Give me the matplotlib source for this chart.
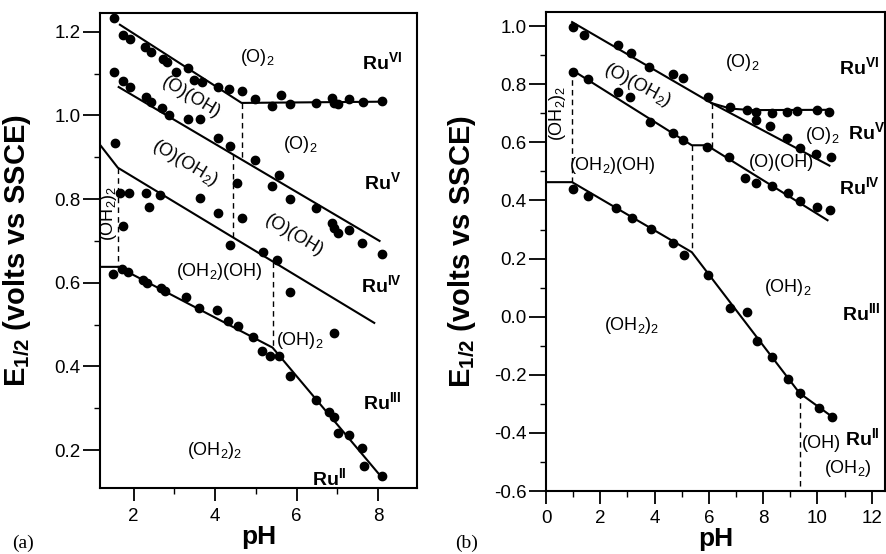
import numpy as np
import matplotlib
matplotlib.use("Agg")
import matplotlib.pyplot as plt
from matplotlib.ticker import MultipleLocator, FormatStrFormatter

plt.rcParams['font.family'] = ['Liberation Sans', 'DejaVu Sans']
plt.rcParams['mathtext.fontset'] = 'custom'
plt.rcParams['mathtext.rm'] = 'Liberation Sans'
plt.rcParams['mathtext.it'] = 'Liberation Sans'
plt.rcParams['mathtext.bf'] = 'Liberation Sans:bold'
plt.rcParams['axes.unicode_minus'] = False

# ---- panel (a) measured points ----
a_ph_vi = [1.51, 1.73, 1.90, 2.27, 2.42, 2.71, 2.81, 3.03, 3.33, 3.47, 3.67, 4.06, 4.33,
           4.65, 4.99, 5.39, 5.61, 5.85, 6.49, 6.88, 6.93, 7.03, 7.30, 7.64, 8.11]
a_e_vi = [1.233, 1.193, 1.183, 1.164, 1.152, 1.135, 1.128, 1.104, 1.114, 1.085, 1.080, 1.068, 1.063,
          1.059, 1.040, 1.023, 1.049, 1.028, 1.030, 1.042, 1.030, 1.028, 1.040, 1.033, 1.035]
a_ph_v = [1.51, 1.73, 1.90, 2.29, 2.42, 2.69, 2.86, 3.33, 3.64, 4.06, 4.36, 4.97, 5.39,
          5.58, 5.83, 6.49, 6.86, 6.93, 7.03, 7.28, 7.62, 8.11]
a_e_v = [1.104, 1.083, 1.068, 1.045, 1.033, 1.018, 1.001, 0.992, 0.992, 0.946, 0.927, 0.894, 0.832,
         0.858, 0.800, 0.779, 0.743, 0.731, 0.719, 0.726, 0.695, 0.669]
a_ph_iv = [1.53, 1.66, 1.88, 1.73, 2.29, 2.37, 2.64, 3.62, 4.06, 4.36, 4.53, 4.65, 5.17, 5.53, 5.83, 6.91]
a_e_iv = [0.934, 0.815, 0.815, 0.736, 0.815, 0.781, 0.810, 0.803, 0.767, 0.690, 0.839, 0.755,
          0.674, 0.655, 0.578, 0.480]
a_ph_iii = [1.48, 1.71, 1.85, 2.22, 2.32, 2.66, 2.78, 3.28, 3.60, 4.04, 4.31, 4.55, 4.92, 5.14,
            5.36, 5.56, 5.83, 6.49, 6.81, 6.93, 7.01, 7.30, 7.62, 7.67, 8.09]
a_e_iii = [0.621, 0.633, 0.626, 0.607, 0.600, 0.588, 0.580, 0.565, 0.540, 0.535, 0.508, 0.497,
           0.470, 0.437, 0.425, 0.425, 0.378, 0.320, 0.290, 0.278, 0.240, 0.236, 0.205, 0.162, 0.138]

# ---- panel (a) fitted lines ----
a_fit_vi_ph = [1.66, 4.65, 8.11]
a_fit_vi_e = [1.217, 1.030, 1.033]
a_fit_v_ph = [1.63, 8.04]
a_fit_v_e = [1.068, 0.700]
a_fit_iv_ph = [1.17, 1.61, 7.91]
a_fit_iv_e = [0.930, 0.875, 0.504]
a_fit_iii_ph = [1.17, 1.61, 5.41, 8.09]
a_fit_iii_e = [0.638, 0.638, 0.445, 0.135]
a_dash_ph = [4.65, 4.43, 1.61, 5.41]
a_dash_top = [1.030, 0.907, 0.875, 0.650]
a_dash_bot = [0.897, 0.707, 0.638, 0.445]

# ---- panel (b) measured points ----
b_ph_vi = [0.99, 1.40, 2.65, 3.13, 3.79, 4.67, 5.04, 5.96, 6.76, 7.39, 7.74, 8.31, 8.86, 9.26, 10.0, 10.44]
b_e_vi = [0.997, 0.969, 0.935, 0.907, 0.859, 0.835, 0.820, 0.756, 0.721, 0.711, 0.704, 0.701,
          0.704, 0.708, 0.711, 0.704]
b_ph_v2 = [7.74, 8.24, 8.86, 9.34, 9.96, 10.51]
b_e_v2 = [0.676, 0.656, 0.614, 0.580, 0.559, 0.549]
b_ph_v = [0.99, 1.54, 2.65, 3.09, 3.82, 4.67, 5.04, 5.92, 6.73, 7.32, 7.72, 8.31, 8.90, 9.34, 10.0, 10.48]
b_e_v = [0.842, 0.818, 0.773, 0.756, 0.670, 0.632, 0.608, 0.584, 0.549, 0.477, 0.460, 0.450,
         0.425, 0.398, 0.377, 0.367]
b_ph_iii = [0.99, 1.54, 2.57, 3.16, 3.86, 4.67, 5.07, 5.96, 6.76, 7.39, 7.79, 8.31, 8.93, 9.37, 10.07, 10.55]
b_e_iii = [0.439, 0.415, 0.374, 0.339, 0.301, 0.253, 0.212, 0.143, 0.030, 0.016, -0.084, -0.139,
           -0.215, -0.263, -0.315, -0.345]

# ---- panel (b) fitted lines ----
b_fit_vi_ph = [0.96, 6.10, 6.8, 7.6, 10.44]
b_fit_vi_e = [1.014, 0.735, 0.716, 0.711, 0.712]
b_fit_v2_ph = [6.10, 10.44]
b_fit_v2_e = [0.735, 0.520]
b_fit_v_ph = [0.96, 5.37, 5.92, 10.37]
b_fit_v_e = [0.849, 0.590, 0.590, 0.332]
b_fit_iii_ph = [0.0, 0.96, 5.37, 9.34, 10.55]
b_fit_iii_e = [0.463, 0.463, 0.222, -0.263, -0.345]
b_dash_ph = [0.96, 6.10, 5.37, 9.34]
b_dash_top = [0.849, 0.735, 0.590, -0.263]
b_dash_bot = [0.463, 0.580, 0.222, -0.600]


def style_axes(ax):
    for s in ax.spines.values():
        s.set_linewidth(1.5)
    ax.tick_params(which='major', direction='out', width=1.3, labelsize=13.5)
    ax.tick_params(which='minor', direction='out', length=4, width=1.0)
    ax.tick_params(axis='y', which='major', length=12, pad=2)
    ax.tick_params(axis='x', which='major', length=9, pad=5)
    ax.tick_params(top=False, right=False)
    ax.set_ylabel(r'$\mathbf{E_{1/2}}$ (volts vs SSCE)', fontsize=21, fontweight='bold')
    ax.set_xlabel('pH', fontsize=19, fontweight='bold', labelpad=0)


def draw(ax, pts, fits, dashes):
    for px, py in fits:
        ax.plot(px, py, color='black', lw=1.5)
    ph, top, bot = dashes
    for x, y0, y1 in zip(ph, top, bot):
        ax.plot([x, x], [y0, y1], color='black', lw=1.0, dashes=(4, 3))
    for px, py in pts:
        ax.plot(px, py, 'o', color='black', ms=6, ls='none')


fig = plt.figure(figsize=(8.87, 5.54), dpi=100)

# panel (a)
ax1 = fig.add_axes([0.1127, 0.119, 0.3574, 0.8575])
draw(ax1,
     [(a_ph_vi, a_e_vi), (a_ph_v, a_e_v), (a_ph_iv, a_e_iv), (a_ph_iii, a_e_iii)],
     [(a_fit_vi_ph, a_fit_vi_e), (a_fit_v_ph, a_fit_v_e),
      (a_fit_iv_ph, a_fit_iv_e), (a_fit_iii_ph, a_fit_iii_e)],
     (a_dash_ph, a_dash_top, a_dash_bot))
ax1.set_xlim(1.17, 8.96)
ax1.set_ylim(0.109, 1.245)
ax1.xaxis.set_major_locator(MultipleLocator(2))
ax1.xaxis.set_minor_locator(MultipleLocator(1))
ax1.yaxis.set_major_locator(MultipleLocator(0.2))
ax1.yaxis.set_minor_locator(MultipleLocator(0.1))
ax1.yaxis.set_major_formatter(FormatStrFormatter('%.1f'))
style_axes(ax1)
ax1.yaxis.set_label_coords(-0.21, 0.5)

fs = 13
ax1.text(5.04, 1.138, r'(O)$_2$', fontsize=fs, ha='center', va='center')
ax1.text(6.10, 0.930, r'(O)$_2$', fontsize=fs, ha='center', va='center')
ax1.text(3.42, 1.042, '(O)(OH)', fontsize=fs, ha='center', va='center', rotation=-31)
ax1.text(3.25, 0.887, r'(O)(OH$_2$)', fontsize=fs, ha='center', va='center', rotation=-31)
ax1.text(5.95, 0.714, '(O)(OH)', fontsize=fs, ha='center', va='center', rotation=-31)
ax1.text(1.39, 0.767, r'(OH$_2$)$_2$', fontsize=fs, ha='center', va='center', rotation=90)
ax1.text(4.11, 0.626, r'(OH$_2$)(OH)', fontsize=fs, ha='center', va='center')
ax1.text(6.07, 0.463, r'(OH)$_2$', fontsize=fs, ha='center', va='center')
ax1.text(3.99, 0.200, r'(OH$_2$)$_2$', fontsize=fs, ha='center', va='center')
rs = 14
ax1.text(8.11, 1.128, r'$\mathbf{Ru^{VI}}$', fontsize=rs, ha='center', va='center')
ax1.text(8.11, 0.841, r'$\mathbf{Ru^{V}}$', fontsize=rs, ha='center', va='center')
ax1.text(8.09, 0.595, r'$\mathbf{Ru^{IV}}$', fontsize=rs, ha='center', va='center')
ax1.text(8.11, 0.315, r'$\mathbf{Ru^{III}}$', fontsize=rs, ha='center', va='center')
ax1.text(6.81, 0.133, r'$\mathbf{Ru^{II}}$', fontsize=rs, ha='center', va='center')

# panel (b)
ax2 = fig.add_axes([0.6156, 0.1137, 0.3825, 0.8643])
draw(ax2,
     [(b_ph_vi, b_e_vi), (b_ph_v2, b_e_v2), (b_ph_v, b_e_v), (b_ph_iii, b_e_iii)],
     [(b_fit_vi_ph, b_fit_vi_e), (b_fit_v2_ph, b_fit_v2_e),
      (b_fit_v_ph, b_fit_v_e), (b_fit_iii_ph, b_fit_iii_e)],
     (b_dash_ph, b_dash_top, b_dash_bot))
ax2.set_xlim(0, 12.5)
ax2.set_ylim(-0.6, 1.048)
ax2.xaxis.set_major_locator(MultipleLocator(2))
ax2.xaxis.set_minor_locator(MultipleLocator(1))
ax2.yaxis.set_major_locator(MultipleLocator(0.2))
ax2.yaxis.set_minor_locator(MultipleLocator(0.1))
ax2.yaxis.set_major_formatter(FormatStrFormatter('%.1f'))
style_axes(ax2)
ax2.yaxis.set_label_coords(-0.2, 0.5)

ax2.text(7.24, 0.876, r'(O)$_2$', fontsize=fs, ha='center', va='center')
ax2.text(10.18, 0.625, r'(O)$_2$', fontsize=fs, ha='center', va='center')
ax2.text(8.68, 0.529, '(O)(OH)', fontsize=fs, ha='center', va='center')
ax2.text(3.35, 0.797, r'(O)(OH$_2$)', fontsize=fs, ha='center', va='center', rotation=-28)
ax2.text(0.44, 0.700, r'(OH$_2$)$_2$', fontsize=fs, ha='center', va='center', rotation=90)
ax2.text(2.43, 0.522, r'(OH$_2$)(OH)', fontsize=fs, ha='center', va='center')
ax2.text(8.90, 0.102, r'(OH)$_2$', fontsize=fs, ha='center', va='center')
ax2.text(3.16, -0.029, r'(OH$_2$)$_2$', fontsize=fs, ha='center', va='center')
ax2.text(10.15, -0.435, '(OH)', fontsize=fs, ha='center', va='center')
ax2.text(11.10, -0.524, r'(OH$_2$)', fontsize=fs, ha='center', va='center')
ax2.text(11.54, 0.859, r'$\mathbf{Ru^{VI}}$', fontsize=rs, ha='center', va='center')
ax2.text(11.80, 0.635, r'$\mathbf{Ru^{V}}$', fontsize=rs, ha='center', va='center')
ax2.text(11.54, 0.446, r'$\mathbf{Ru^{IV}}$', fontsize=rs, ha='center', va='center')
ax2.text(11.60, 0.012, r'$\mathbf{Ru^{III}}$', fontsize=rs, ha='center', va='center')
ax2.text(11.65, -0.418, r'$\mathbf{Ru^{II}}$', fontsize=rs, ha='center', va='center')

fig.text(12 / 887, 1 - 543 / 554, '(a)', fontsize=14, family='Liberation Serif', va='center')
fig.text(455 / 887, 1 - 543 / 554, '(b)', fontsize=14, family='Liberation Serif', va='center')

fig.savefig('out.png', dpi=100)
